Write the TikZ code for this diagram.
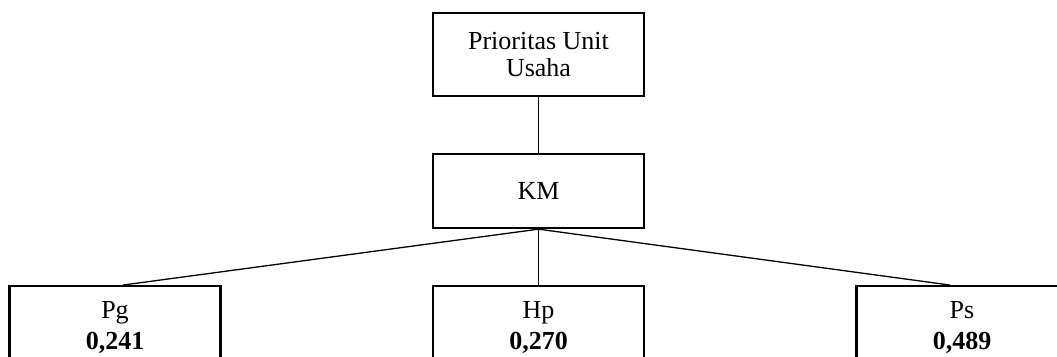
\documentclass[tikz,border=0pt]{standalone}
\usepackage{fontspec}
\setmainfont{Liberation Serif}
\begin{document}
\begin{tikzpicture}[x=1pt,y=-1pt,
  box/.style={draw,line width=2.3pt,inner sep=0pt,minimum width=211pt,align=center},
  topbox/.style={box,minimum height=83pt,font=\fontsize{26}{27.5}\selectfont},
  midbox/.style={box,minimum height=74pt,font=\fontsize{26}{28}\selectfont},
  leafbox/.style={box,minimum height=82pt,font=\fontsize{26}{31}\selectfont},
  conn/.style={line width=1.3pt}]
\clip (0,0) rectangle (1057,356);
\node[topbox] (top) at (538.5,54.5) {Prioritas Unit\\Usaha};
\node[midbox] (km) at (538.5,191) {KM};
\node[leafbox] (pg) at (115,327.2) {Pg\\\textbf{0,241}};
\node[leafbox] (hp) at (538.5,327.2) {Hp\\\textbf{0,270}};
\node[leafbox] (ps) at (962,327.2) {Ps\\\textbf{0,489}};
\draw[conn] (top.south) -- (km.north);
\draw[conn] (km.south) -- ([xshift=8pt]pg.north);
\draw[conn] (km.south) -- (hp.north);
\draw[conn] (km.south) -- ([xshift=-12pt]ps.north);
\end{tikzpicture}
\end{document}
